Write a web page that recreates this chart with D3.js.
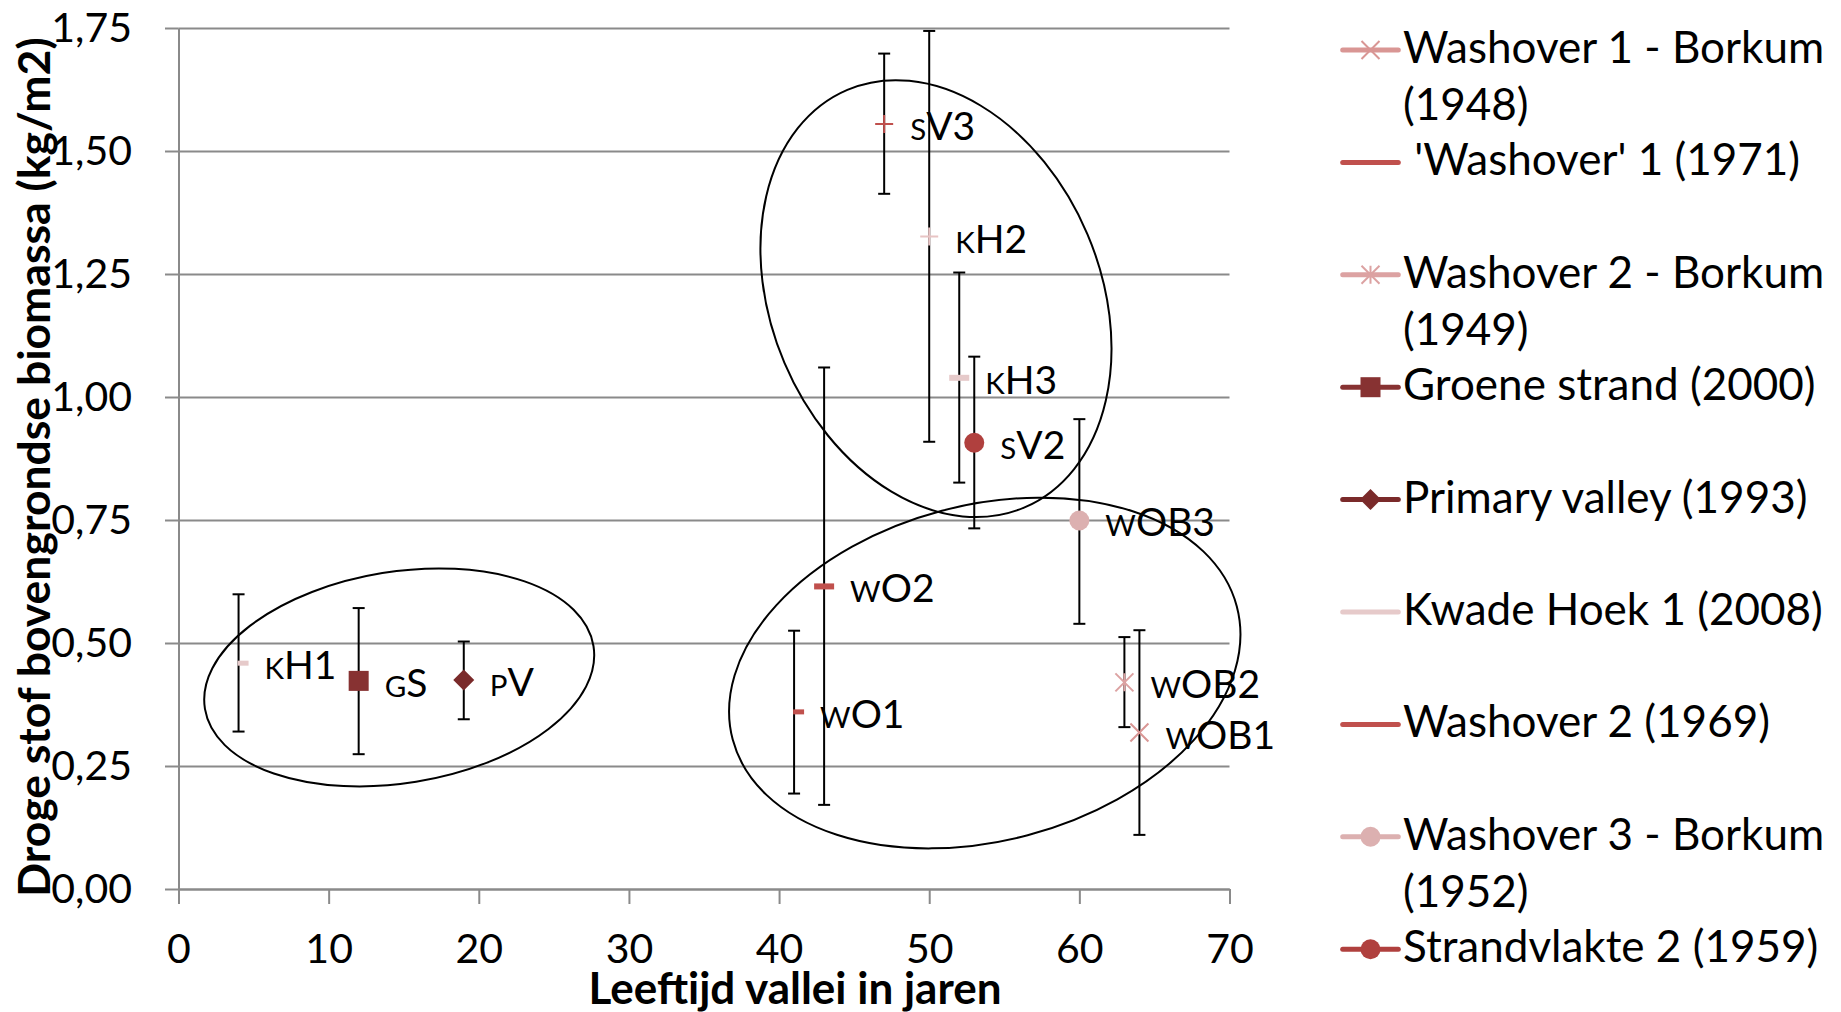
<!DOCTYPE html>
<html>
<head>
<meta charset="utf-8">
<script src="https://cdn.jsdelivr.net/npm/d3@7"></script>
<style>
body{margin:0;background:#fff;}
svg{display:block;font-family:Lato,"Open Sans",sans-serif;}
</style>
</head>
<body>
<svg id="chart" width="1841" height="1012"></svg>
<script>
// --- data ---
var seriesNames = ["Washover 1 - Borkum (1948)", " 'Washover' 1 (1971)", "Washover 2 - Borkum (1949)",
                   "Groene strand (2000)", "Primary valley (1993)", "Kwade Hoek 1 (2008)",
                   "Washover 2 (1969)", "Washover 3 - Borkum (1952)", "Strandvlakte 2 (1959)",
                   "Strandvlakte 3 (1965)", "Kwade Hoek 2 (1962)", "Kwade Hoek 3 (1960)"];
var pointLabels = ["wOB1", "wO1", "wOB2", "gS", "pV", "kH1", "wO2", "wOB3", "sV2", "sV3", "kH2", "kH3"];
var ages     = [64, 41, 63, 12, 19, 4, 43, 60, 53, 47, 50, 52];
var biomass  = [0.318, 0.360, 0.420, 0.423, 0.425, 0.459, 0.615, 0.749, 0.907, 1.555, 1.326, 1.039];
var errHigh  = [0.526, 0.525, 0.512, 0.571, 0.503, 0.599, 1.060, 0.955, 1.082, 1.698, 1.744, 1.253];
var errLow   = [0.110, 0.194, 0.329, 0.274, 0.345, 0.320, 0.171, 0.539, 0.733, 1.413, 0.909, 0.826];
var markerType = ["x", "shortdash", "asterisk", "square", "diamond", "shortdash", "dash", "circle", "circle", "plus", "plus", "dash"];
var colors = ["#d99694", "#c0504d", "#dca2a2", "#873232", "#7a2a2a", "#e6caca",
              "#c0504d", "#dcb0b0", "#b0403e", "#c0504d", "#e8c4c4", "#e6caca"];
var legendCount = 9;   // the legend box only shows the first nine entries

var xTicks = [0, 10, 20, 30, 40, 50, 60, 70];
var yTicks = [0, 0.25, 0.5, 0.75, 1, 1.25, 1.5, 1.75];

// hand drawn group ellipses: centre in data units
var groupAge = [14.7, 50.45, 53.7];
var groupBio = [0.430, 1.200, 0.439];
var groupShape = [[196.8, 105.7, -9.2], [164.6, 226.8, -23], [260.7, 167.8, -14.8]]; // rx, ry, angle (px, deg)

var svg = d3.select("#chart");
var gridColor = "#8a8a8a";

var x = d3.scaleLinear().domain([0, 70]).range([178.5, 1229.5]);
var y = d3.scaleLinear().domain([0, 1.75]).range([889, 28]);

// gridlines
var grid = svg.append("g")
    .attr("transform", "translate(" + x(0) + ",0)")
    .call(d3.axisLeft(y).tickValues(yTicks).tickSize(-(x(70) - x(0))).tickFormat(""));
grid.select(".domain").remove();
grid.selectAll("line").attr("stroke", gridColor).attr("stroke-width", 2);

// y axis
var yAxis = svg.append("g")
    .attr("transform", "translate(" + x(0) + ",0)")
    .call(d3.axisLeft(y).tickValues(yTicks).tickSize(13.5).tickSizeOuter(0).tickPadding(33)
        .tickFormat(function(d){ return d3.format(".2f")(d).replace(".", ","); }));
yAxis.attr("font-family", null).attr("font-size", 41);
yAxis.selectAll("path, line").attr("stroke", gridColor).attr("stroke-width", 2);
yAxis.selectAll("text").attr("fill", "#000");

// x axis
var xAxis = svg.append("g")
    .attr("transform", "translate(0," + y(0) + ")")
    .call(d3.axisBottom(x).tickValues(xTicks).tickSize(15).tickSizeOuter(0));
xAxis.attr("font-family", null).attr("font-size", 41);
xAxis.selectAll("path, line").attr("stroke", gridColor).attr("stroke-width", 2);
xAxis.selectAll("text").attr("fill", "#000").attr("dy", null).attr("y", 74);

// axis titles
svg.append("text")
    .attr("transform", "translate(50,467) rotate(-90)")
    .attr("text-anchor", "middle")
    .attr("font-weight", "bold").attr("font-size", 44.5)
    .text("Droge stof bovengrondse biomassa (kg/m2)");
svg.append("text")
    .attr("x", 795).attr("y", 1004)
    .attr("text-anchor", "middle")
    .attr("font-weight", "bold").attr("font-size", 44)
    .text("Leeftijd vallei in jaren");

function drawMarker(g, type, color){
    if (type == "x" || type == "asterisk" || type == "plus"){
        var p = "";
        if (type != "plus") p += "M-9,-9L9,9M-9,9L9,-9";
        if (type == "asterisk") p += "M0,-9L0,9";
        if (type == "plus") p += "M-9,0L9,0M0,-9L0,9";
        g.append("path").attr("d", p).attr("stroke", color).attr("stroke-width", 2).attr("fill", "none");
    } else if (type == "square"){
        g.append("rect").attr("x", -10).attr("y", -10).attr("width", 20).attr("height", 20).attr("fill", color);
    } else if (type == "diamond"){
        g.append("path").attr("d", "M0,-10.5L10.5,0L0,10.5L-10.5,0Z").attr("fill", color);
    } else if (type == "circle"){
        g.append("circle").attr("r", 10).attr("fill", color);
    } else if (type == "shortdash"){
        g.append("rect").attr("x", -1).attr("y", -2.5).attr("width", 11).attr("height", 5).attr("fill", color);
    } else if (type == "dash"){
        g.append("rect").attr("x", -10).attr("y", -3).attr("width", 20).attr("height", 6).attr("fill", color);
    }
}

var idx = d3.range(ages.length);

// error bars
var bars = svg.append("g").attr("stroke", "#000").attr("stroke-width", 2);
idx.forEach(function(i){
    var cx = x(ages[i]);
    bars.append("line").attr("x1", cx).attr("x2", cx).attr("y1", y(errLow[i])).attr("y2", y(errHigh[i]));
    [errLow[i], errHigh[i]].forEach(function(v){
        bars.append("line").attr("x1", cx - 6).attr("x2", cx + 6).attr("y1", y(v)).attr("y2", y(v));
    });
});

// markers
idx.forEach(function(i){
    var g = svg.append("g").attr("transform", "translate(" + x(ages[i]) + "," + y(biomass[i]) + ")");
    drawMarker(g, markerType[i], colors[i]);
});

// point labels, first letter set in small caps
var labels = svg.append("g").attr("font-size", 39).attr("fill", "#000");
idx.forEach(function(i){
    var t = labels.append("text")
        .attr("x", x(ages[i]) + 26)
        .attr("y", y(biomass[i]) + 16);
    t.append("tspan").attr("font-size", 29.5).text(pointLabels[i][0].toUpperCase());
    t.append("tspan").text(pointLabels[i].slice(1));
});

// group ellipses
idx.slice(0, groupAge.length).forEach(function(k){
    svg.append("ellipse")
        .attr("transform", "translate(" + x(groupAge[k]) + "," + y(groupBio[k]) + ") rotate(" + groupShape[k][2] + ")")
        .attr("rx", groupShape[k][0]).attr("ry", groupShape[k][1])
        .attr("fill", "none").attr("stroke", "#000").attr("stroke-width", 2);
});

// legend
var legend = svg.append("g").attr("font-size", 44);
var legX = 1342.7, legW = 1841 - 1403;
d3.range(legendCount).forEach(function(i){
    var y0 = 50 + i * 112.4;
    legend.append("line")
        .attr("x1", legX).attr("x2", legX + 55.6).attr("y1", y0).attr("y2", y0)
        .attr("stroke", colors[i]).attr("stroke-width", 5).attr("stroke-linecap", "round");
    if (markerType[i] != "dash" && markerType[i] != "shortdash"){
        var mg = legend.append("g").attr("transform", "translate(" + (legX + 27.8) + "," + y0 + ")");
        drawMarker(mg, markerType[i], colors[i]);
    }
    var t = legend.append("text").attr("x", 1403).attr("y", y0 + 13).style("white-space", "pre");
    var words = seriesNames[i].split(" "), line = [];
    var ts = t.append("tspan").attr("x", 1403);
    words.forEach(function(w){
        line.push(w);
        ts.text(line.join(" "));
        if (ts.node().getComputedTextLength() > legW && line.length > 1){
            line.pop();
            ts.text(line.join(" "));
            line = [w];
            ts = t.append("tspan").attr("x", 1403).attr("dy", 57).text(w);
        }
    });
});
</script>
</body>
</html>
